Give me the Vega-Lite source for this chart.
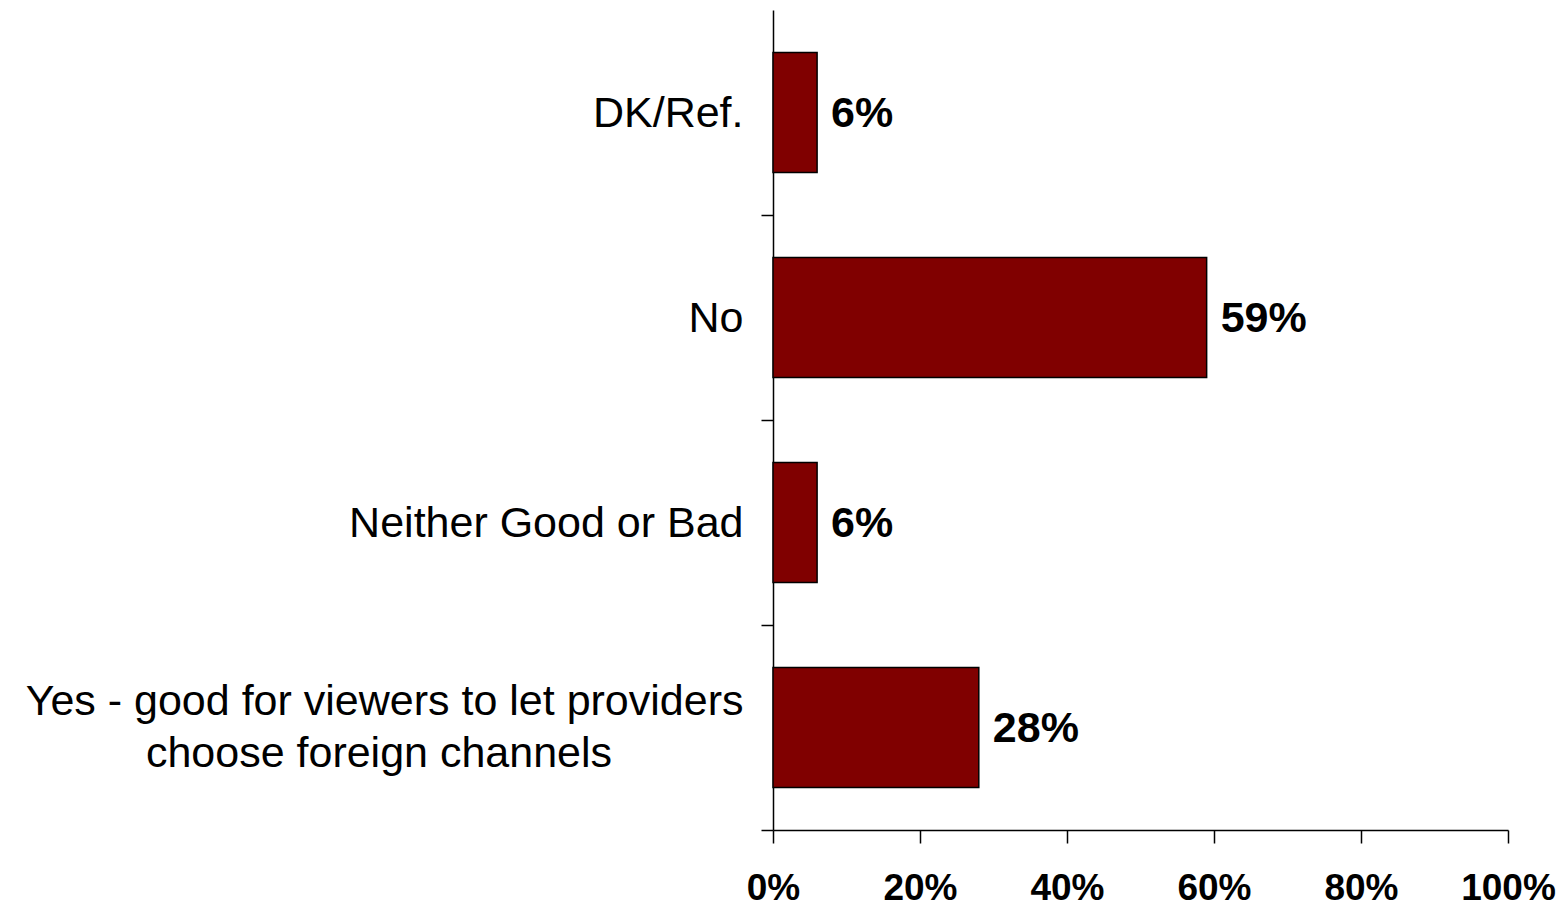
{
  "$schema": "https://vega.github.io/schema/vega-lite/v6.json",
  "width": 735,
  "height": 820,
  "autosize": {"type": "none"},
  "padding": {"left": 773, "top": 10, "right": 57, "bottom": 76},
  "background": "white",
  "config": {"view": {"stroke": null}, "font": "Liberation Sans"},
  "data": {
    "values": [
      {"category": "DK/Ref.", "value": 6, "label": "6%"},
      {"category": "No", "value": 59, "label": "59%"},
      {"category": "Neither Good or Bad", "value": 6, "label": "6%"},
      {"category": "Yes - good for viewers to let providers choose foreign channels", "value": 28, "label": "28%"}
    ]
  },
  "encoding": {
    "y": {
      "field": "category",
      "type": "nominal",
      "sort": ["DK/Ref.", "No", "Neither Good or Bad", "Yes - good for viewers to let providers choose foreign channels"],
      "scale": {"paddingInner": 0.415, "paddingOuter": 0.2075},
      "axis": {
        "title": null,
        "domainColor": "black",
        "domainWidth": 1.5,
        "tickColor": "black",
        "tickWidth": 1.5,
        "tickSize": 12,
        "tickOffset": 102.6,
        "labelFontSize": 43,
        "labelColor": "black",
        "labelPadding": 18,
        "labelLineHeight": 52,
        "labelLimit": 0,
        "labelOffset": {"condition": {"test": "datum.value == 'Yes - good for viewers to let providers choose foreign channels'", "value": -128.6}, "value": -101.6},
        "labelExpr": "datum.value == 'Yes - good for viewers to let providers choose foreign channels' ? ['Yes - good for viewers to let providers', 'choose foreign channels\u00a0\u00a0\u00a0\u00a0\u00a0\u00a0\u00a0\u00a0\u00a0\u00a0\u00a0\u200b'] : datum.value"
      }
    }
  },
  "layer": [
    {
      "mark": {"type": "bar", "color": "#800000", "stroke": "black", "strokeWidth": 1.5},
      "encoding": {
        "x": {
          "field": "value",
          "type": "quantitative",
          "scale": {"domain": [0, 100]},
          "axis": {
            "title": null,
            "grid": false,
            "values": [0, 20, 40, 60, 80, 100],
            "labelExpr": "datum.value + '%'",
            "labelFlush": false,
            "domainColor": "black",
            "domainWidth": 1.5,
            "tickColor": "black",
            "tickWidth": 1.5,
            "tickSize": 13,
            "labelFontSize": 37,
            "labelFontWeight": "bold",
            "labelColor": "black",
            "labelPadding": 27
          }
        }
      }
    },
    {
      "mark": {"type": "text", "align": "left", "baseline": "middle", "dx": 14, "dy": 1, "fontSize": 43, "fontWeight": "bold", "color": "black"},
      "encoding": {
        "x": {"field": "value", "type": "quantitative"},
        "text": {"field": "label"}
      }
    }
  ]
}
